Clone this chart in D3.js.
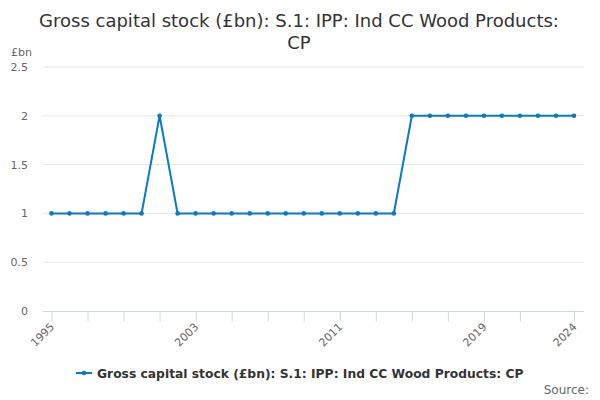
<!DOCTYPE html>
<html><head><meta charset="utf-8">
<script src="https://cdn.jsdelivr.net/npm/d3@7"></script>
<style>body{margin:0;background:#fff;font-family:"DejaVu Sans",sans-serif;}</style>
</head><body>
<svg id="c" width="600" height="400"></svg>
<script>
const years = d3.range(1995, 2025);
const values = [1,1,1,1,1,1,2,1,1,1,1,1,1,1,1,1,1,1,1,1,2,2,2,2,2,2,2,2,2,2];
const yTicks = [0, 0.5, 1, 1.5, 2, 2.5];
const xTicks = [1995,1997,1999,2001,2003,2005,2007,2009,2011,2013,2015,2017,2019,2021,2024];
const xLabels = [1995, 2003, 2011, 2019, 2024];
const seriesName = "Gross capital stock (£bn): S.1: IPP: Ind CC Wood Products: CP";
const color = "#0a7bc2";

const svg = d3.select("#c");
const x = d3.scaleLinear().domain([1995, 2024]).range([51.5, 574]);
const y = d3.scaleLinear().domain([0, 2.5]).range([311, 67]);

svg.append("text").attr("x", 299).attr("y", 27).attr("text-anchor", "middle")
  .attr("font-size", 18).attr("fill", "#333").text("Gross capital stock (£bn): S.1: IPP: Ind CC Wood Products:");
svg.append("text").attr("x", 299).attr("y", 49).attr("text-anchor", "middle")
  .attr("font-size", 18).attr("fill", "#333").text("CP");

svg.append("text").attr("x", 11).attr("y", 56).attr("font-size", 11).attr("fill", "#666").text("£bn");

// gridlines
svg.append("g").selectAll("line").data(yTicks.filter(d => d > 0)).join("line")
  .attr("x1", 43).attr("x2", 584).attr("y1", d => y(d)).attr("y2", d => y(d))
  .attr("stroke", "#e6e6e6").attr("stroke-width", 1);

// y labels
svg.append("g").selectAll("text").data(yTicks).join("text")
  .attr("x", 28).attr("y", d => y(d) + 4).attr("text-anchor", "end")
  .attr("font-size", 11).attr("fill", "#666").text(d => d);

// x axis
const xAxis = d3.axisBottom(x).tickValues(xTicks).tickSize(10)
  .tickFormat(d => xLabels.includes(d) ? d : "");
const gx = svg.append("g").attr("transform", "translate(0,311.5)").call(xAxis);
gx.select(".domain").remove();
gx.insert("line", ":first-child").attr("x1", 43).attr("x2", 584).attr("stroke", "#ccd6eb");
gx.selectAll(".tick line").attr("stroke", "#ccd6eb");
gx.selectAll(".tick text").attr("font-size", 11).attr("fill", "#666")
  .attr("font-family", "DejaVu Sans, sans-serif")
  .attr("text-anchor", "end").attr("dy", null).attr("y", 0)
  .attr("transform", "translate(3,16) rotate(-45)");

// line
svg.append("path").datum(values)
  .attr("fill", "none").attr("stroke", color).attr("stroke-width", 2)
  .attr("d", d3.line().x((d, i) => x(years[i])).y(d => y(d)));
svg.append("g").selectAll("circle").data(values).join("circle")
  .attr("cx", (d, i) => x(years[i])).attr("cy", d => y(d)).attr("r", 2.3).attr("fill", color);

// legend
const lg = svg.append("g").attr("transform", "translate(76,373)");
lg.append("line").attr("x1", 0).attr("x2", 16).attr("y1", 0).attr("y2", 0).attr("stroke", color).attr("stroke-width", 2);
lg.append("circle").attr("cx", 8).attr("cy", 0).attr("r", 2.3).attr("fill", color);
lg.append("text").attr("x", 21).attr("y", 4.5).attr("font-size", 12.3).attr("font-weight", "bold")
  .attr("fill", "#333").text(seriesName);

svg.append("text").attr("x", 589).attr("y", 394).attr("text-anchor", "end")
  .attr("font-size", 12).attr("fill", "#666").text("Source:");
</script>
</body></html>
